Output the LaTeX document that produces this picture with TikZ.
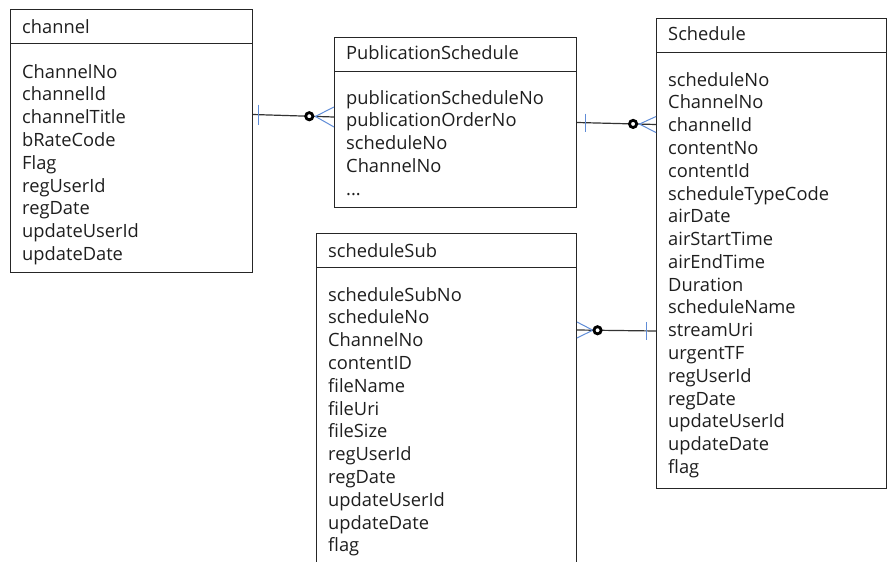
\documentclass[tikz,border=0pt]{standalone}
\usepackage{fontspec}
\setmainfont{Open Sans}
\usepackage{xcolor}
\definecolor{crowblue}{RGB}{95,140,215}
\definecolor{inkgray}{RGB}{30,30,30}
\newcommand{\attrs}[1]{\begin{tabular}[t]{@{}l@{}}#1\end{tabular}}

\tikzset{
	entity/.style={draw=black!85, line width=1pt, anchor=north west, inner sep=0pt},
	title/.style={anchor=base west, inner sep=0pt, text=inkgray, font=\fontsize{18.3}{22.8}\selectfont},
	fields/.style={anchor=base west, inner sep=0pt, text=inkgray, font=\fontsize{18.3}{22.8}\selectfont},
	rel/.style={draw=black!80, line width=1.2pt},
	tick/.style={draw=crowblue, line width=1pt},
	crow/.style={draw=crowblue, line width=1pt},
	ring/.style={draw=black, fill=white, line width=2.8pt},
}

\begin{document}
\begin{tikzpicture}[x=1pt, y=-1pt]
	\useasboundingbox (0,0) rectangle (887,562);
	\clip (0,0) rectangle (887,562);
	% Entities:
	\node[entity, minimum width=242pt, minimum height=263pt] (chan) at (10,9){};
	\node[entity, minimum width=242pt, minimum height=170pt] (pub) at (334,37){};
	\node[entity, minimum width=230pt, minimum height=470pt] (sched) at (656,18){};
	\node[entity, minimum width=260pt, minimum height=345pt] (sub) at (316,233){};
	\draw[line width=1pt, draw=black!85] ([yshift=-34pt]chan.north west) -- ([yshift=-34pt]chan.north east);
	\draw[line width=1pt, draw=black!85] ([yshift=-34pt]pub.north west) -- ([yshift=-34pt]pub.north east);
	\draw[line width=1pt, draw=black!85] ([yshift=-34pt]sched.north west) -- ([yshift=-34pt]sched.north east);
	\draw[line width=1pt, draw=black!85] ([yshift=-34pt]sub.north west) -- ([yshift=-34pt]sub.north east);
	% Titles and fields:
	\node[title] (chanT) at ([xshift=12pt, yshift=-24pt]chan.north west){channel};
	\node[fields] (chanF) at ([xshift=12pt, yshift=-69pt]chan.north west){\attrs{ChannelNo\\channelId\\channelTitle\\bRateCode\\Flag\\regUserId\\regDate\\updateUserId\\updateDate}};
	\node[title] (pubT) at ([xshift=12pt, yshift=-22pt]pub.north west){PublicationSchedule};
	\node[fields] (pubF) at ([xshift=12pt, yshift=-67pt]pub.north west){\attrs{publicationScheduleNo\\publicationOrderNo\\scheduleNo\\ChannelNo\\...}};
	\node[title] (schedT) at ([xshift=12pt, yshift=-23pt]sched.north west){Schedule};
	\node[fields] (schedF) at ([xshift=12pt, yshift=-68pt]sched.north west){\attrs{scheduleNo\\ChannelNo\\channelId\\contentNo\\contentId\\scheduleTypeCode\\airDate\\airStartTime\\airEndTime\\Duration\\scheduleName\\streamUri\\urgentTF\\regUserId\\regDate\\updateUserId\\updateDate\\flag}};
	\node[title] (subT) at ([xshift=12pt, yshift=-24pt]sub.north west){scheduleSub};
	\node[fields] (subF) at ([xshift=12pt, yshift=-68pt]sub.north west){\attrs{scheduleSubNo\\scheduleNo\\ChannelNo\\contentID\\fileName\\fileUri\\fileSize\\regUserId\\regDate\\updateUserId\\updateDate\\flag}};
	% Relationships:
	\coordinate (r1a) at ([yshift=-105.5pt]chan.north east);
	\coordinate (r1b) at ([yshift=-80pt]pub.north west);
	\draw[rel] (r1a) -- coordinate[pos=0.07](r1t) coordinate[pos=0.695](r1o) coordinate[pos=0.77](r1f) (r1b);
	\draw[tick] ([yshift=10pt]r1t) -- ([yshift=-10pt]r1t);
	\draw[crow] ([yshift=10pt]r1b) -- (r1f) -- ([yshift=-10pt]r1b);
	\draw[ring] (r1o) circle (3.6pt);
	\coordinate (r2a) at ([yshift=-85.5pt]pub.north east);
	\coordinate (r2b) at ([yshift=-106.5pt]sched.north west);
	\draw[rel] (r2a) -- coordinate[pos=0.11](r2t) coordinate[pos=0.71](r2o) coordinate[pos=0.79](r2f) (r2b);
	\draw[tick] ([yshift=9pt]r2t) -- ([yshift=-9pt]r2t);
	\draw[crow] ([yshift=8pt]r2b) -- (r2f) -- ([yshift=-8pt]r2b);
	\draw[ring] (r2o) circle (3.6pt);
	\coordinate (r3a) at ([yshift=-97pt]sub.north east);
	\coordinate (r3b) at ([yshift=-313pt]sched.north west);
	\draw[rel] (r3a) -- coordinate[pos=0.2](r3f) coordinate[pos=0.26](r3o) coordinate[pos=0.885](r3t) (r3b);
	\draw[tick] ([yshift=9pt]r3t) -- ([yshift=-9pt]r3t);
	\draw[crow] ([yshift=8pt]r3a) -- (r3f) -- ([yshift=-8pt]r3a);
	\draw[ring] (r3o) circle (3.6pt);
\end{tikzpicture}
\end{document}
